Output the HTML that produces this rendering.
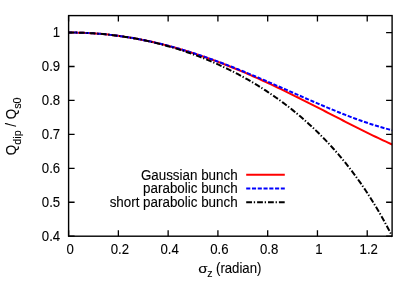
<!DOCTYPE html>
<html><head><meta charset="utf-8"><title>plot</title>
<style>html,body{margin:0;padding:0;background:#fff;font-family:"Liberation Sans",sans-serif;}</style></head>
<body>
<svg width="415" height="290" viewBox="0 0 415 290" style="display:block">
<rect width="415" height="290" fill="#fff"/>
<defs><clipPath id="c"><rect x="68.60" y="15.60" width="323.50" height="221.60"/></clipPath></defs>
<g clip-path="url(#c)" fill="none" stroke-linecap="butt" stroke-linejoin="round">
<path d="M68.01,32.54 L70.51,32.54 L73.01,32.56 L75.51,32.59 L78.01,32.64 L80.51,32.71 L83.01,32.79 L85.51,32.89 L88.01,33.01 L90.51,33.15 L93.01,33.31 L95.51,33.48 L98.01,33.67 L100.51,33.87 L103.01,34.10 L105.51,34.34 L108.01,34.59 L110.51,34.87 L113.01,35.16 L115.51,35.47 L118.01,35.79 L120.51,36.14 L123.01,36.50 L125.51,36.87 L128.01,37.26 L130.51,37.67 L133.01,38.10 L135.51,38.54 L138.01,39.00 L140.51,39.48 L143.01,39.97 L145.51,40.48 L148.01,41.00 L150.51,41.54 L153.01,42.10 L155.51,42.67 L158.01,43.26 L160.51,43.86 L163.01,44.48 L165.51,45.11 L168.01,45.76 L170.51,46.43 L173.01,47.11 L175.51,47.81 L178.01,48.52 L180.50,49.25 L183.00,49.99 L185.50,50.74 L188.00,51.51 L190.50,52.30 L193.00,53.10 L195.50,53.91 L198.00,54.74 L200.50,55.58 L203.00,56.44 L205.50,57.31 L208.00,58.19 L210.50,59.08 L213.00,59.99 L215.50,60.92 L218.00,61.85 L220.50,62.80 L223.00,63.76 L225.50,64.74 L228.00,65.72 L230.50,66.72 L233.00,67.73 L235.50,68.75 L238.00,69.78 L240.50,70.83 L243.00,71.89 L245.50,72.95 L248.00,74.03 L250.50,75.12 L253.00,76.22 L255.50,77.33 L258.00,78.45 L260.50,79.58 L263.00,80.72 L265.50,81.86 L268.00,83.02 L270.50,84.19 L273.00,85.36 L275.50,86.55 L278.00,87.74 L280.50,88.94 L283.00,90.14 L285.50,91.36 L288.00,92.58 L290.50,93.81 L293.00,95.04 L295.50,96.28 L298.00,97.52 L300.50,98.78 L303.00,100.03 L305.50,101.29 L308.00,102.56 L310.50,103.83 L313.00,105.10 L315.50,106.38 L318.00,107.66 L320.50,108.94 L323.00,110.22 L325.50,111.50 L328.00,112.79 L330.50,114.08 L333.00,115.36 L335.50,116.65 L338.00,117.94 L340.50,119.22 L343.00,120.51 L345.50,121.79 L347.99,123.06 L350.49,124.34 L352.99,125.61 L355.49,126.88 L357.99,128.14 L360.49,129.39 L362.99,130.64 L365.49,131.88 L367.99,133.11 L370.49,134.34 L372.99,135.55 L375.49,136.76 L377.99,137.95 L380.49,139.14 L382.99,140.31 L385.49,141.46 L387.99,142.61 L390.49,143.73 L392.99,144.85" stroke="#ff0000" stroke-width="2"/>
<path d="M68.01,32.54 L70.51,32.54 L73.01,32.56 L75.51,32.59 L78.01,32.64 L80.51,32.71 L83.01,32.79 L85.51,32.89 L88.01,33.01 L90.51,33.15 L93.01,33.31 L95.51,33.48 L98.01,33.67 L100.51,33.87 L103.01,34.10 L105.51,34.34 L108.01,34.59 L110.51,34.87 L113.01,35.16 L115.51,35.47 L118.01,35.79 L120.51,36.14 L123.01,36.49 L125.51,36.87 L128.01,37.26 L130.51,37.67 L133.01,38.10 L135.51,38.54 L138.01,39.00 L140.51,39.47 L143.01,39.96 L145.51,40.47 L148.01,40.99 L150.51,41.53 L153.01,42.09 L155.51,42.66 L158.01,43.24 L160.51,43.84 L163.01,44.46 L165.51,45.09 L168.01,45.74 L170.51,46.40 L173.01,47.08 L175.51,47.77 L178.01,48.47 L180.50,49.19 L183.00,49.93 L185.50,50.68 L188.00,51.44 L190.50,52.22 L193.00,53.01 L195.50,53.81 L198.00,54.63 L200.50,55.45 L203.00,56.30 L205.50,57.15 L208.00,58.02 L210.50,58.89 L213.00,59.79 L215.50,60.69 L218.00,61.60 L220.50,62.52 L223.00,63.46 L225.50,64.41 L228.00,65.36 L230.50,66.33 L233.00,67.30 L235.50,68.29 L238.00,69.28 L240.50,70.29 L243.00,71.30 L245.50,72.32 L248.00,73.34 L250.50,74.38 L253.00,75.42 L255.50,76.47 L258.00,77.52 L260.50,78.58 L263.00,79.65 L265.50,80.72 L268.00,81.80 L270.50,82.88 L273.00,83.96 L275.50,85.05 L278.00,86.14 L280.50,87.24 L283.00,88.33 L285.50,89.43 L288.00,90.53 L290.50,91.63 L293.00,92.73 L295.50,93.83 L298.00,94.93 L300.50,96.02 L303.00,97.12 L305.50,98.21 L308.00,99.30 L310.50,100.39 L313.00,101.47 L315.50,102.55 L318.00,103.62 L320.50,104.69 L323.00,105.75 L325.50,106.81 L328.00,107.85 L330.50,108.89 L333.00,109.92 L335.50,110.94 L338.00,111.95 L340.50,112.96 L343.00,113.95 L345.50,114.92 L347.99,115.89 L350.49,116.84 L352.99,117.78 L355.49,118.71 L357.99,119.62 L360.49,120.51 L362.99,121.39 L365.49,122.26 L367.99,123.10 L370.49,123.93 L372.99,124.74 L375.49,125.52 L377.99,126.29 L380.49,127.04 L382.99,127.77 L385.49,128.47 L387.99,129.16 L390.49,129.81 L392.99,130.45" stroke="#0000ff" stroke-width="2" stroke-dasharray="4.1 1.67"/>
<path d="M68.01,32.54 L70.51,32.54 L73.01,32.56 L75.51,32.59 L78.01,32.64 L80.51,32.71 L83.01,32.79 L85.51,32.89 L88.01,33.01 L90.51,33.15 L93.01,33.30 L95.51,33.47 L98.01,33.66 L100.51,33.86 L103.01,34.09 L105.51,34.33 L108.01,34.59 L110.51,34.86 L113.01,35.15 L115.51,35.47 L118.01,35.79 L120.51,36.14 L123.01,36.50 L125.51,36.89 L128.01,37.29 L130.51,37.70 L133.01,38.14 L135.51,38.59 L138.01,39.06 L140.51,39.56 L143.01,40.06 L145.51,40.59 L148.01,41.14 L150.51,41.70 L153.01,42.28 L155.51,42.89 L158.01,43.51 L160.51,44.15 L163.01,44.81 L165.51,45.48 L168.01,46.18 L170.51,46.90 L173.01,47.64 L175.51,48.39 L178.01,49.17 L180.50,49.97 L183.00,50.78 L185.50,51.62 L188.00,52.48 L190.50,53.35 L193.00,54.25 L195.50,55.17 L198.00,56.11 L200.50,57.08 L203.00,58.06 L205.50,59.07 L208.00,60.09 L210.50,61.14 L213.00,62.22 L215.50,63.31 L218.00,64.43 L220.50,65.57 L223.00,66.74 L225.50,67.92 L228.00,69.14 L230.50,70.37 L233.00,71.63 L235.50,72.92 L238.00,74.23 L240.50,75.56 L243.00,76.93 L245.50,78.32 L248.00,79.73 L250.50,81.17 L253.00,82.64 L255.50,84.14 L258.00,85.67 L260.50,87.22 L263.00,88.81 L265.50,90.43 L268.00,92.07 L270.50,93.75 L273.00,95.46 L275.50,97.20 L278.00,98.97 L280.50,100.78 L283.00,102.62 L285.50,104.50 L288.00,106.42 L290.50,108.37 L293.00,110.36 L295.50,112.39 L298.00,114.45 L300.50,116.56 L303.00,118.71 L305.50,120.91 L308.00,123.14 L310.50,125.43 L313.00,127.76 L315.50,130.13 L318.00,132.56 L320.50,135.03 L323.00,137.56 L325.50,140.14 L328.00,142.78 L330.50,145.47 L333.00,148.23 L335.50,151.04 L338.00,153.91 L340.50,156.85 L343.00,159.86 L345.50,162.93 L347.99,166.08 L350.49,169.29 L352.99,172.58 L355.49,175.95 L357.99,179.41 L360.49,182.94 L362.99,186.56 L365.49,190.27 L367.99,194.07 L370.49,197.96 L372.99,201.96 L375.49,206.05 L377.99,210.25 L380.49,214.56 L382.99,218.99 L385.49,223.53 L387.99,228.19 L390.49,232.97 L392.99,237.89" stroke="#000" stroke-width="2" stroke-dasharray="5.8 1.8 1.3 2.0"/>
</g>
<rect x="68.60" y="15.60" width="323.50" height="220.60" fill="none" stroke="#000" stroke-width="1.4"/>
<path d="M68.60,236.20 v-6 M68.60,15.60 v6 M118.37,236.20 v-6 M118.37,15.60 v6 M168.14,236.20 v-6 M168.14,15.60 v6 M217.91,236.20 v-6 M217.91,15.60 v6 M267.68,236.20 v-6 M267.68,15.60 v6 M317.45,236.20 v-6 M317.45,15.60 v6 M367.22,236.20 v-6 M367.22,15.60 v6 M68.60,236.20 h6 M392.10,236.20 h-6 M68.60,202.26 h6 M392.10,202.26 h-6 M68.60,168.32 h6 M392.10,168.32 h-6 M68.60,134.38 h6 M392.10,134.38 h-6 M68.60,100.45 h6 M392.10,100.45 h-6 M68.60,66.51 h6 M392.10,66.51 h-6 M68.60,32.57 h6 M392.10,32.57 h-6" stroke="#000" stroke-width="1.3" fill="none"/>
<g font-family="Liberation Sans, sans-serif" font-size="13.2" fill="#000" stroke="#000" stroke-width="0.1" style="filter:grayscale(1)">
<text transform="translate(70.10,253.80) scale(1,1.050)" text-anchor="middle">0</text>
<text transform="translate(119.87,253.80) scale(1,1.050)" text-anchor="middle">0.2</text>
<text transform="translate(169.64,253.80) scale(1,1.050)" text-anchor="middle">0.4</text>
<text transform="translate(219.41,253.80) scale(1,1.050)" text-anchor="middle">0.6</text>
<text transform="translate(269.18,253.80) scale(1,1.050)" text-anchor="middle">0.8</text>
<text transform="translate(318.95,253.80) scale(1,1.050)" text-anchor="middle">1</text>
<text transform="translate(368.72,253.80) scale(1,1.050)" text-anchor="middle">1.2</text>
<text transform="translate(60.20,240.60) scale(1,1.050)" text-anchor="end">0.4</text>
<text transform="translate(60.20,206.66) scale(1,1.050)" text-anchor="end">0.5</text>
<text transform="translate(60.20,172.72) scale(1,1.050)" text-anchor="end">0.6</text>
<text transform="translate(60.20,138.78) scale(1,1.050)" text-anchor="end">0.7</text>
<text transform="translate(60.20,104.85) scale(1,1.050)" text-anchor="end">0.8</text>
<text transform="translate(60.20,70.91) scale(1,1.050)" text-anchor="end">0.9</text>
<text transform="translate(60.20,36.97) scale(1,1.050)" text-anchor="end">1</text>
<text transform="translate(237.60,179.50) scale(1,1.050)" text-anchor="end" font-size="13.40">Gaussian bunch</text>
<text transform="translate(237.60,193.20) scale(1,1.050)" text-anchor="end" font-size="13.40">parabolic bunch</text>
<text transform="translate(237.60,206.90) scale(1,1.050)" text-anchor="end" font-size="13.40">short parabolic bunch</text>
<text transform="translate(198.3,273.3) scale(1.15,0.9)">σ</text>
<text transform="translate(207.2,277.2)" font-size="10.6">z</text>
<text transform="translate(216.00,273.30) scale(1,1.050)" text-anchor="start">(radian)</text>
<text transform="translate(16,126.3) rotate(-90) scale(1,1.050)" text-anchor="middle" font-size="13.4">Q<tspan font-size="10.8" dy="4.3">dip</tspan><tspan dy="-4.3"> / Q</tspan><tspan font-size="10.8" dy="4.3">s0</tspan></text>
</g>
<path d="M246.2,174.80 H284.8" stroke="#ff0000" stroke-width="2.1" fill="none" />
<path d="M246.2,188.50 H284.8" stroke="#0000ff" stroke-width="2.1" fill="none" stroke-dasharray="4.1 1.67"/>
<path d="M246.2,202.20 H284.8" stroke="#000" stroke-width="2.1" fill="none" stroke-dasharray="5.8 1.8 1.3 2.0"/>
</svg>
</body></html>
